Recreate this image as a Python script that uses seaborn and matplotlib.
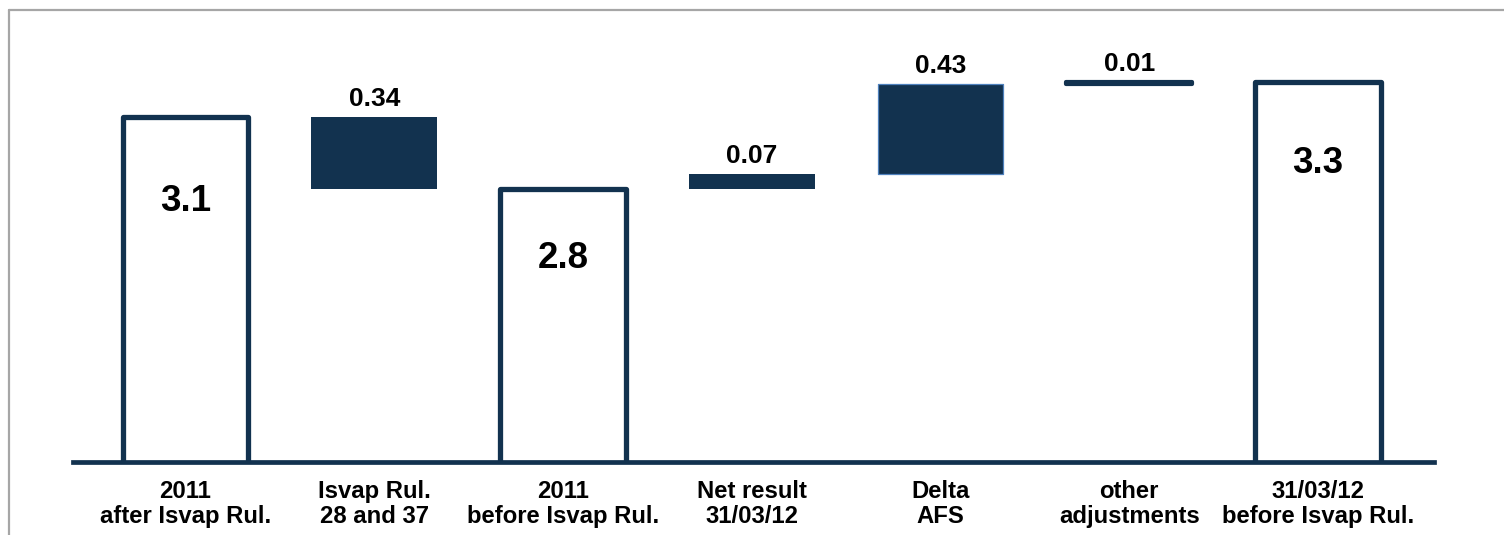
import matplotlib
matplotlib.use("Agg")
import matplotlib.pyplot as plt
from matplotlib.lines import Line2D
import seaborn as sns
import pandas as pd
import numpy as np

# ---- data ----
categories = [
    "2011\nafter Isvap Rul.",
    "Isvap Rul.\n28 and 37",
    "2011\nbefore Isvap Rul.",
    "Net result\n31/03/12",
    "Delta\nAFS",
    "other\nadjustments",
    "31/03/12\nbefore Isvap Rul.",
]
values = [3.14, -0.34, 2.80, 0.07, 0.43, 0.01, 3.31]
kinds = ["total", "delta", "total", "delta", "delta", "delta", "total"]

# ---- waterfall geometry derived from the data ----
bottoms, heights = [], []
running = 0.0
for v, k in zip(values, kinds):
    if k == "total":
        bottoms.append(0.0)
        heights.append(v)
        running = v
    else:
        bottoms.append(min(running, running + v))
        heights.append(abs(v))
        running += v

df = pd.DataFrame({"category": categories, "height": heights})

NAVY = "#12324f"
EDGE_LIGHT = "#4f81bd"

sns.set_style("white")
plt.rcParams["font.family"] = ["Liberation Sans", "DejaVu Sans"]
plt.rcParams["font.weight"] = "bold"

fig = plt.figure(figsize=(15.04, 5.35), dpi=100)
ax = fig.add_axes([73 / 1504, 73.3 / 535, (1434 - 73) / 1504, 441 / 535])

sns.barplot(data=df, x="category", y="height", order=categories,
            bottom=bottoms, width=0.667, errorbar=None, ax=ax,
            color=NAVY, linewidth=0)

# style each bar
for patch, k, v in zip(ax.patches, kinds, values):
    patch.set_joinstyle("round")
    if k == "total":
        patch.set_facecolor("white")
        patch.set_edgecolor(NAVY)
        patch.set_linewidth(3.8)
    else:
        patch.set_facecolor(NAVY)
        if abs(v) < 0.02:
            patch.set_edgecolor(NAVY)
            patch.set_linewidth(3.0)
            patch.set_capstyle("round")
        elif abs(v) > 0.4:
            patch.set_edgecolor(EDGE_LIGHT)
            patch.set_linewidth(0.9)
        else:
            patch.set_linewidth(0)

ax.set_ylim(1.5, 3.6)
ax.set_xlim(-0.596, 6.615)

# labels
big_offsets_px = {0: 84, 2: 70, 6: 82}
for i, (v, k) in enumerate(zip(values, kinds)):
    top = bottoms[i] + heights[i]
    if k == "total":
        ax.annotate(f"{v:.1f}", xy=(i, top), xytext=(0, -big_offsets_px[i]),
                    textcoords="offset pixels", ha="center", va="center",
                    fontsize=26.5, fontweight="bold", color="black")
    else:
        ax.annotate(f"{abs(v):.2f}", xy=(i, top), xytext=(0, 11),
                    textcoords="offset pixels", ha="center", va="baseline",
                    fontsize=19, fontweight="bold", color="black")

# axes styling
for s in ["top", "right", "left"]:
    ax.spines[s].set_visible(False)
ax.spines["bottom"].set_color(NAVY)
ax.spines["bottom"].set_linewidth(3.4)
ax.spines["bottom"].set_zorder(5)
ax.set_yticks([])
ax.set_xlabel("")
ax.set_ylabel("")
ax.tick_params(axis="x", length=0, pad=13.2)
for lbl in ax.get_xticklabels():
    lbl.set_fontsize(17.2)
    lbl.set_fontweight("bold")
    lbl.set_linespacing(1.12)
    lbl.set_color("black")

# outer grey frame (top and left)
fig.add_artist(Line2D([8.5 / 1504, 1.0], [1 - 10 / 535, 1 - 10 / 535],
                      transform=fig.transFigure, color="#a6a6a6", linewidth=1.6))
fig.add_artist(Line2D([8.5 / 1504, 8.5 / 1504], [0, 1 - 10 / 535],
                      transform=fig.transFigure, color="#a6a6a6", linewidth=1.6))

fig.savefig("out.png", dpi=100)
